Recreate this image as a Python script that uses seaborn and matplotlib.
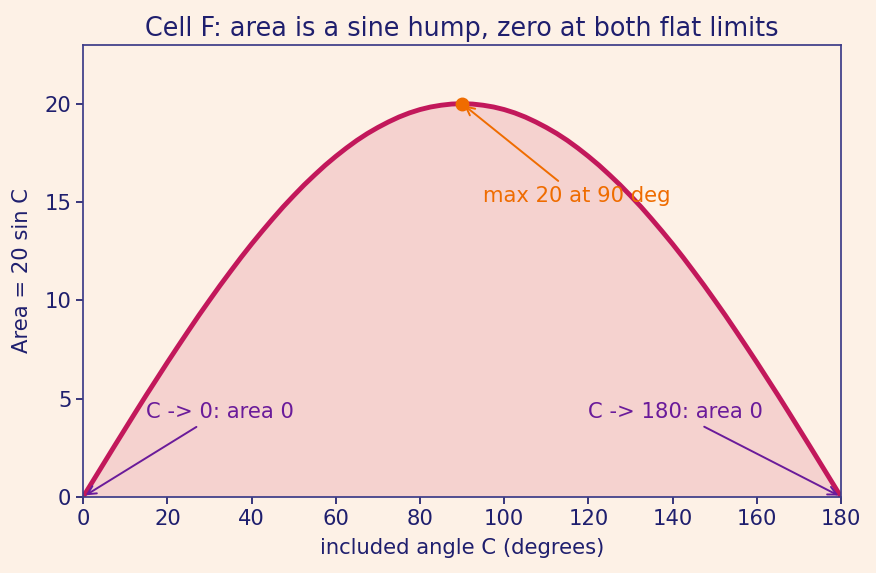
import pandas as pd
import matplotlib
matplotlib.use('Agg')
import matplotlib.pyplot as plt
import seaborn as sns

# angle C in degrees and the area (every 2.5 degrees)
angle_deg = [0, 2.5, 5, 7.5, 10, 12.5, 15, 17.5, 20, 22.5, 25, 27.5, 30, 32.5, 35, 37.5,
             40, 42.5, 45, 47.5, 50, 52.5, 55, 57.5, 60, 62.5, 65, 67.5, 70, 72.5, 75, 77.5,
             80, 82.5, 85, 87.5, 90, 92.5, 95, 97.5, 100, 102.5, 105, 107.5, 110, 112.5,
             115, 117.5, 120, 122.5, 125, 127.5, 130, 132.5, 135, 137.5, 140, 142.5, 145,
             147.5, 150, 152.5, 155, 157.5, 160, 162.5, 165, 167.5, 170, 172.5, 175, 177.5, 180]
area = [0.0, 0.87, 1.74, 2.61, 3.47, 4.33, 5.18, 6.01, 6.84, 7.65, 8.45, 9.24, 10.0, 10.75,
        11.47, 12.18, 12.86, 13.51, 14.14, 14.75, 15.32, 15.87, 16.38, 16.87, 17.32, 17.74,
        18.13, 18.48, 18.79, 19.07, 19.32, 19.53, 19.70, 19.83, 19.92, 19.98, 20.0,
        19.98, 19.92, 19.83, 19.70, 19.53, 19.32, 19.07, 18.79, 18.48, 18.13, 17.74, 17.32,
        16.87, 16.38, 15.87, 15.32, 14.75, 14.14, 13.51, 12.86, 12.18, 11.47, 10.75, 10.0,
        9.24, 8.45, 7.65, 6.84, 6.01, 5.18, 4.33, 3.47, 2.61, 1.74, 0.87, 0.0]
peak_angle = 90
peak_area = 20

df = pd.DataFrame({'angle': angle_deg, 'area': area})

bg = '#fdf1e6'
ink = '#1f1f6e'
sns.set_theme(style='ticks', rc={
    'figure.facecolor': bg, 'axes.facecolor': bg,
    'axes.edgecolor': '#3c3c88', 'axes.labelcolor': ink,
    'xtick.color': ink, 'ytick.color': ink, 'text.color': ink,
})
plt.rcParams['font.family'] = ['DejaVu Sans']

fs = 15.2
fig, ax = plt.subplots(figsize=(8.76, 5.73), dpi=100)
sns.lineplot(data=df, x='angle', y='area', color='#c2185b', linewidth=3.5, ax=ax)
ax.fill_between(df['angle'], df['area'], color='#eba4ae', alpha=0.4, linewidth=0)
ax.plot([peak_angle], [peak_area], 'o', color='#ef6c00', markersize=9, zorder=5)

ax.annotate('max 20 at 90 deg', xy=(peak_angle, peak_area), xytext=(95, 15),
            color='#ef6c00', fontsize=fs,
            arrowprops=dict(arrowstyle='->', color='#ef6c00', lw=1.4))
ax.annotate('C -> 0: area 0', xy=(0, 0), xytext=(15, 4),
            color='#6a1b9a', fontsize=fs,
            arrowprops=dict(arrowstyle='->', color='#6a1b9a', lw=1.4))
ax.annotate('C -> 180: area 0', xy=(180, 0), xytext=(120, 4),
            color='#6a1b9a', fontsize=fs,
            arrowprops=dict(arrowstyle='->', color='#6a1b9a', lw=1.4))

ax.set_xlim(0, 180)
ax.set_ylim(0, 23)
ax.set_xticks(range(0, 181, 20))
ax.set_yticks([0, 5, 10, 15, 20])
ax.tick_params(labelsize=fs, length=5)
ax.set_xlabel('included angle C (degrees)', fontsize=fs, labelpad=7)
ax.set_ylabel('Area = 20 sin C', fontsize=fs, labelpad=9)
ax.set_title('Cell F: area is a sine hump, zero at both flat limits', fontsize=18.4, color=ink)

fig.subplots_adjust(left=0.095, right=0.96, top=0.922, bottom=0.133)
fig.savefig('out.png', dpi=100, facecolor=bg)
